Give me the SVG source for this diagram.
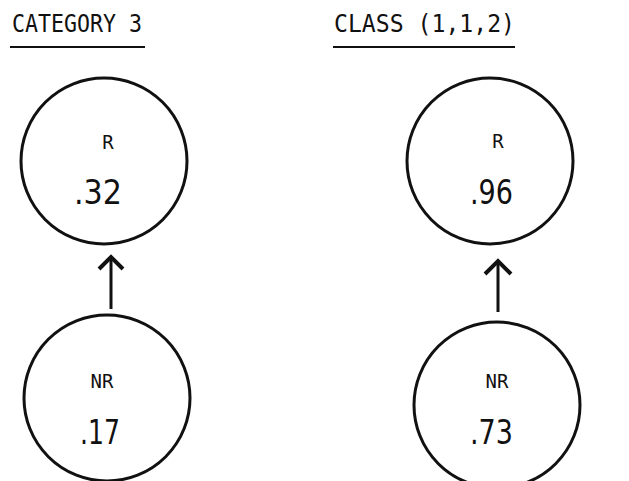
<svg xmlns="http://www.w3.org/2000/svg" width="629" height="481" viewBox="0 0 629 481">
<defs>
<style>
.c{fill:none;stroke:#111;stroke-width:3}
.t{font-family:"DejaVu Sans Mono","Liberation Mono",monospace;fill:#111}
.lab{font-family:"DejaVu Sans Mono","Liberation Mono",monospace;font-size:19px;fill:#111;text-anchor:middle}
.num{font-family:"DejaVu Sans","Liberation Sans",sans-serif;font-size:34px;fill:#111}
.ul{stroke:#111;stroke-width:2}
.a{stroke:#111;stroke-width:3;fill:none}
.h{stroke:#111;stroke-width:4;fill:none;stroke-linejoin:miter}
</style>
</defs>
<g id="title-left">
<text class="t" x="12" y="32" font-size="24" textLength="130" lengthAdjust="spacingAndGlyphs">CATEGORY 3</text>
<line class="ul" x1="10" y1="47" x2="145" y2="47"/>
</g>
<g id="title-right">
<text class="t" x="334" y="32" font-size="24" textLength="181" lengthAdjust="spacingAndGlyphs">CLASS (1,1,2)</text>
<line class="ul" x1="333" y1="47" x2="515" y2="47"/>
</g>
<g id="node-left-R">
<circle class="c" cx="104" cy="161" r="83"/>
<text class="lab" x="108" y="149">R</text>
<text class="num" x="74" y="204" textLength="48" lengthAdjust="spacingAndGlyphs">.32</text>
</g>
<g id="node-left-NR">
<circle class="c" cx="107" cy="398" r="83"/>
<text class="lab" x="102" y="388">NR</text>
<text class="num" x="80" y="444" textLength="40" lengthAdjust="spacingAndGlyphs">.17</text>
</g>
<g id="node-right-R">
<circle class="c" cx="490" cy="161" r="83"/>
<text class="lab" x="498" y="148">R</text>
<text class="num" x="470" y="204" textLength="43" lengthAdjust="spacingAndGlyphs">.96</text>
</g>
<g id="node-right-NR">
<circle class="c" cx="497" cy="405" r="83"/>
<text class="lab" x="497" y="388">NR</text>
<text class="num" x="470" y="444" textLength="43" lengthAdjust="spacingAndGlyphs">.73</text>
</g>
<g id="connectors">
<line class="a" x1="111" y1="309" x2="111" y2="258"/>
<polyline class="h" points="99,269 111,257 123,269"/>
<line class="a" x1="498" y1="312" x2="498" y2="262"/>
<polyline class="h" points="485,274 498,261 511,274"/>
</g>
</svg>
